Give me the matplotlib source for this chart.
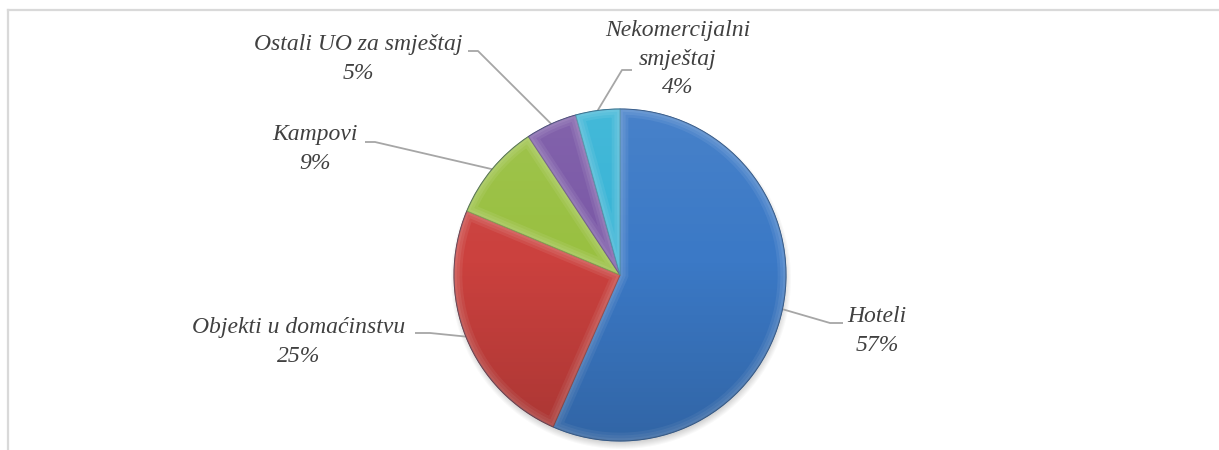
import matplotlib.pyplot as plt
import numpy as np
from matplotlib.patches import Circle, Wedge

W, H = 1219, 450

# data (share of overnights by accommodation type)
labels = ["Hoteli", "Objekti u domaćinstvu", "Kampovi",
          "Ostali UO za smještaj", "Nekomercijalni\nsmještaj"]
shares = [56.6, 24.7, 9.4, 5.0, 4.3]
pct_text = ["57%", "25%", "9%", "5%", "4%"]
colors = ["#3b79c6", "#cb413e", "#99c041", "#7a58a6", "#37b4d6"]
edge_colors = ["#2c5a94", "#8f2c2a", "#6b8a2c", "#543c75", "#2a809a"]

# label layout in pixels (y measured from the top of the picture)
text_pos = [(877, 331), (299, 342), (315, 149), (358, 59), (678, 59)]
elbows = [(830, 323), (430, 333), (375, 142), (478, 51), (622, 70)]
ends = [(843, 323), (415, 333), (365, 142), (468, 51), (632, 70)]

cx, cy, r = 620, H - 275, 166


def fy(y):
    return H - y


fig = plt.figure(figsize=(W / 100, H / 100), dpi=100)
ax = fig.add_axes([0, 0, 1, 1])
ax.set_xlim(0, W)
ax.set_ylim(0, H)
ax.axis("off")

# frame of the chart area (only top and left edges are visible)
ax.plot([8, W], [fy(9.5), fy(9.5)], color="#d9d9d9", lw=1.6, zorder=0)
ax.plot([8, 8], [fy(9.5), 0], color="#d9d9d9", lw=1.6, zorder=0)

# soft shadow under the pie
for k in range(8):
    ax.add_patch(Circle((cx + 1, cy - 4), r + 4 - k, color="black",
                        alpha=0.025, lw=0, zorder=1))

wedges, _ = ax.pie(shares, colors=colors, startangle=90, counterclock=False,
                   center=(cx, cy), radius=r, frame=True,
                   wedgeprops=dict(linewidth=0.7, zorder=2))
for w, ec in zip(wedges, edge_colors):
    w.set_edgecolor(ec)
    w.set_zorder(2)
    # soft inner bevel along each wedge edge
    for lw in (12, 8, 4):
        hl = Wedge(w.center, w.r, w.theta1, w.theta2, fill=False,
                   edgecolor="white", alpha=0.07, lw=lw, zorder=3)
        ax.add_patch(hl)
        hl.set_clip_path(w)

# slightly lighter at the top, darker toward the bottom
gy = np.linspace(0, 1, 200)[:, None] * np.ones((1, 200))
grad = np.zeros((200, 200, 4))
grad[..., :3] = np.where(gy[..., None] < 0.45, 1.0, 0.0)
grad[..., 3] = np.where(gy < 0.45, (0.45 - gy) * 0.15, (gy - 0.45) * 0.3)
im = ax.imshow(grad, extent=(cx - r, cx + r, cy - r, cy + r), origin="upper",
               zorder=4, interpolation="bilinear")
im.set_clip_path(Circle((cx, cy), r, transform=ax.transData))
ax.add_patch(Circle((cx, cy), r, fill=False, edgecolor="#2f4f75", lw=0.7,
                    alpha=0.45, zorder=5))
ax.set_xlim(0, W)
ax.set_ylim(0, H)

for w, lab, pct, tp, el, en in zip(wedges, labels, pct_text, text_pos,
                                   elbows, ends):
    mid = np.deg2rad((w.theta1 + w.theta2) / 2)
    sx, sy = cx + r * np.cos(mid), cy + r * np.sin(mid)
    ax.plot([sx, el[0], en[0]], [sy, fy(el[1]), fy(en[1])],
            color="#a6a6a6", lw=1.3, zorder=1, solid_capstyle="butt")
    ax.text(tp[0], fy(tp[1]), lab + "\n" + pct, ha="center", va="center",
            multialignment="center", fontsize=17, style="italic",
            family="Liberation Serif", color="#404040", linespacing=1.45)

fig.savefig("out.png", dpi=100)
